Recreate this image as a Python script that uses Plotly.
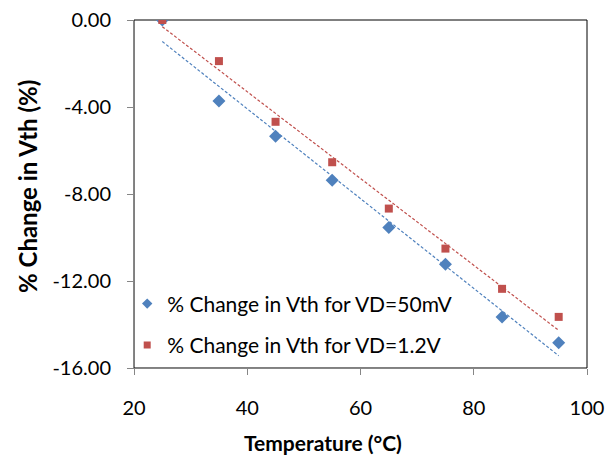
import numpy as np
import plotly.graph_objects as go

temps = [25, 35, 45, 55, 65, 75, 85, 95]
vd_50mv = [0.0, -3.72, -5.35, -7.37, -9.54, -11.23, -13.65, -14.84]
vd_1p2v = [0.0, -1.89, -4.68, -6.54, -8.67, -10.51, -12.36, -13.65]
names = ["% Change in Vth for VD=50mV", "% Change in Vth for VD=1.2V"]
colors = ["#4F81BD", "#C0504D"]
symbols = ["diamond", "square"]
sizes = [10, 8]
legend_sizes = [8, 7]
y_ticks = [0, -4, -8, -12, -16]

FONT = "Lato"
fig = go.Figure()

for ys, c in zip([vd_50mv, vd_1p2v], colors):
    m, b = np.polyfit(temps, ys, 1)
    xs = [min(temps), max(temps)]
    fig.add_trace(go.Scatter(x=xs, y=[m * x + b for x in xs], mode="lines",
                             line=dict(color=c, width=1.2, dash="3px,2px"),
                             showlegend=False, hoverinfo="skip"))

for ys, n, c, s, sz in zip([vd_50mv, vd_1p2v], names, colors, symbols, sizes):
    fig.add_trace(go.Scatter(x=temps, y=ys, mode="markers", name=n, showlegend=False,
                             marker=dict(symbol=s, size=sz, color=c, line=dict(width=0))))

# legend-only entries (smaller symbols, as in the reference legend)
for i, (n, c, s, sz) in enumerate(zip(names, colors, symbols, legend_sizes)):
    fig.add_trace(go.Scatter(x=[None], y=[None], mode="markers", name=n,
                             legendgroup="g%d" % i,
                             marker=dict(symbol=s, size=sz, color=c, line=dict(width=0))))

fig.add_shape(type="rect", xref="paper", yref="paper", x0=0, y0=0, x1=1, y1=1,
              line=dict(color="#000000", width=1), layer="below")

fig.update_layout(
    width=607, height=447,
    margin=dict(l=126, r=28, t=12, b=87, pad=0, autoexpand=False),
    paper_bgcolor="white", plot_bgcolor="white",
    font=dict(family=FONT, size=20, color="#000000"),
    showlegend=True,
    legend=dict(x=-0.015, y=0.243, xanchor="left", yanchor="top",
                bgcolor="rgba(0,0,0,0)", font=dict(size=21, family=FONT),
                itemsizing="trace", tracegroupgap=11),
    xaxis=dict(range=[20, 100], tickvals=[20, 40, 60, 80, 100],
               ticks="outside", ticklen=6, tickcolor="#868686",
               showline=True, linecolor="#868686", linewidth=1,
               showgrid=False, zeroline=False, ticklabelstandoff=16,
               ticklabeloverflow="allow",
               automargin=False, tickfont=dict(size=20)),
    yaxis=dict(range=[-16, 0], tickvals=y_ticks,
               ticktext=["%.2f" % v for v in y_ticks],
               ticks="outside", ticklen=6, tickcolor="#868686",
               showline=True, linecolor="#868686", linewidth=1,
               showgrid=False, zeroline=False, ticklabelstandoff=12,
               ticklabeloverflow="allow",
               automargin=False, tickfont=dict(size=20)),
    annotations=[
        dict(text="<b>Temperature (°C)</b>", xref="paper", yref="paper",
             x=0.417, y=-0.214, xanchor="center", yanchor="middle",
             showarrow=False, font=dict(size=21, family=FONT)),
        dict(text="<b>% Change in Vth (%)</b>", xref="paper", yref="paper",
             x=-0.234, y=0.523, xanchor="center", yanchor="middle", textangle=-90,
             showarrow=False, font=dict(size=24, family=FONT)),
    ],
)

fig.write_html("out.html")
